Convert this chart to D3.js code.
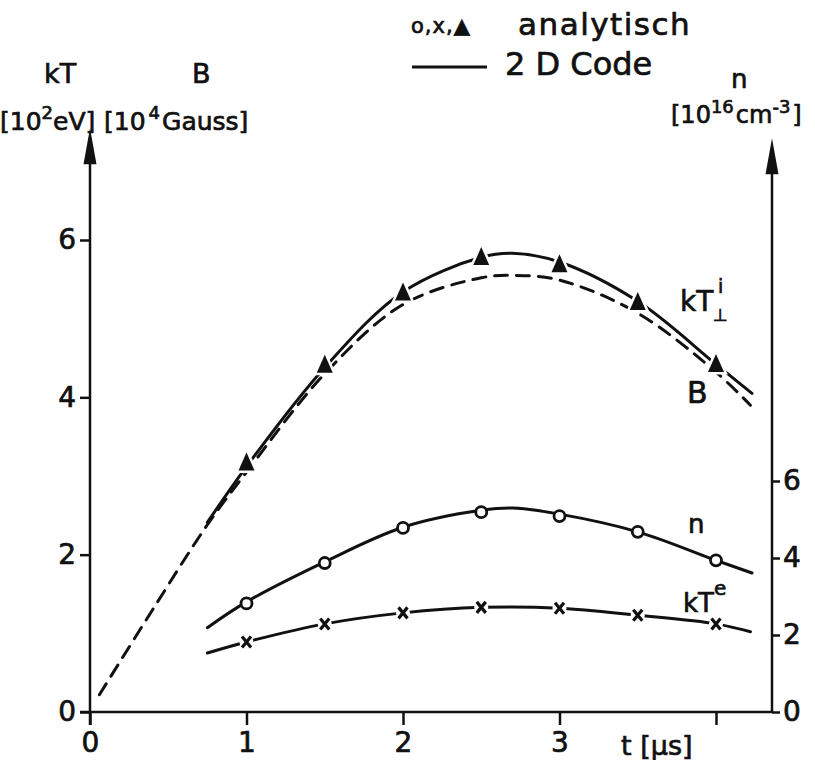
<!DOCTYPE html>
<html>
<head>
<meta charset="utf-8">
<script src="https://cdn.jsdelivr.net/npm/d3@7"></script>
<style>
  body { margin: 0; background: #fff; }
  text { font-family: "DejaVu Sans", sans-serif; fill: #111; stroke: #111; stroke-width: 0.7px; }
</style>
</head>
<body>
<svg id="canvas"></svg>
<script>
// time axis ticks and labels
const xTicks = [0, 1, 2, 3, 4];
const xTickLabels = ["0", "1", "2", "3", ""];
const leftTicks = [0, 2, 4, 6];
const rightTicks = [0, 2, 4, 6];

// 2D code curves (t in µs)
const kTiT = [0.75, 1, 1.5, 2, 2.5, 2.7, 3, 3.5, 4, 4.23];
const kTiV = [2.41, 3.12, 4.38, 5.34, 5.78, 5.83, 5.72, 5.22, 4.42, 4.05];
const bT = [0.06, 0.4, 0.75, 1, 1.5, 2, 2.5, 2.7, 3, 3.5, 4, 4.22];
const bV = [0.22, 1.3, 2.38, 3.05, 4.3, 5.18, 5.52, 5.55, 5.49, 5.07, 4.32, 3.90];
const nT = [0.75, 1, 1.5, 2, 2.5, 2.7, 3, 3.5, 4, 4.23];
const nV = [2.19, 2.86, 3.9, 4.8, 5.24, 5.3, 5.14, 4.68, 3.94, 3.61];
const kTeT = [0.75, 1, 1.5, 2, 2.5, 3, 3.5, 4, 4.22];
const kTeV = [0.75, 0.89, 1.12, 1.26, 1.33, 1.32, 1.23, 1.12, 1.02];

// analytic points
const anaT = [1, 1.5, 2, 2.5, 3, 3.5, 4];
const anaKTi = [3.16, 4.40, 5.32, 5.77, 5.68, 5.20, 4.41];
const anaN = [2.82, 3.87, 4.78, 5.19, 5.09, 4.68, 3.94];
const anaKTe = [0.89, 1.12, 1.26, 1.33, 1.32, 1.23, 1.12];

const width = 815;
const height = 760;

const svg = d3.select("#canvas")
    .attr("width", width)
    .attr("height", height);

const x = d3.scaleLinear().domain([0, 4]).range([90, 716]);
const yL = d3.scaleLinear().domain([0, 6]).range([712, 240]);
const yR = d3.scaleLinear().domain([0, 6]).range([712, 481]);
const xRight = 772;

const line = (xs, ys, yScale) => d3.line()
    .x(d => x(d[0]))
    .y(d => yScale(d[1]))
    .curve(d3.curveCatmullRom.alpha(0.5))(d3.zip(xs, ys));

// axes
const axisG = svg.append("g").attr("stroke", "#111").attr("stroke-width", 2.5);
axisG.append("line")
    .attr("x1", x(0)).attr("x2", x(0))
    .attr("y1", yL(0) + 13).attr("y2", yL(7.3));
axisG.append("line")
    .attr("x1", xRight).attr("x2", xRight)
    .attr("y1", yR(0)).attr("y2", yR(14.6));
axisG.append("line")
    .attr("x1", x(0) - 10).attr("x2", xRight)
    .attr("y1", yL(0)).attr("y2", yL(0));

// arrow heads
const arrow = (ax, ay) => svg.append("path")
    .attr("d", `M${ax},${ay}L${ax + 6.5},${ay + 36}L${ax - 6.5},${ay + 36}Z`)
    .attr("fill", "#111");
arrow(x(0), yL(7.42));
arrow(xRight, yR(14.9));

const xAxis = svg.append("g")
    .attr("transform", `translate(0, ${yL(0)})`)
    .call(d3.axisBottom(x).tickValues(xTicks)
        .tickFormat((d, i) => xTickLabels[i]).tickSize(13).tickPadding(7));
const leftAxis = svg.append("g")
    .attr("transform", `translate(${x(0)}, 0)`)
    .call(d3.axisLeft(yL).tickValues(leftTicks).tickFormat(d3.format("d"))
        .tickSize(10).tickPadding(4));
const rightAxis = svg.append("g")
    .attr("transform", `translate(${xRight}, 0)`)
    .call(d3.axisRight(yR).tickValues(rightTicks).tickFormat(d3.format("d"))
        .tickSize(8).tickPadding(3));

[xAxis, leftAxis, rightAxis].forEach(g => {
    g.select(".domain").remove();
    g.selectAll(".tick line").attr("stroke", "#111").attr("stroke-width", 2.5);
    g.selectAll(".tick text")
        .style("font-family", "'DejaVu Sans', sans-serif")
        .style("font-size", "28px")
        .attr("fill", "#111");
});
xAxis.selectAll(".tick text").attr("dy", "0.72em");

// curves
const curves = svg.append("g").attr("fill", "none").attr("stroke", "#111")
    .attr("stroke-width", 3).attr("stroke-linecap", "round");
curves.append("path").attr("d", line(bT, bV, yL)).attr("stroke-dasharray", "13,9");
curves.append("path").attr("d", line(kTiT, kTiV, yL));
curves.append("path").attr("d", line(nT, nV, yR));
curves.append("path").attr("d", line(kTeT, kTeV, yL));

// analytic markers
const tri = "M0,-11L8,7L-8,7Z";
svg.append("g").selectAll("path")
    .data(d3.zip(anaT, anaKTi))
    .join("path")
    .attr("transform", d => `translate(${x(d[0])},${yL(d[1])})`)
    .attr("d", tri)
    .attr("fill", "#111")
    .attr("stroke", "#fff")
    .attr("stroke-width", 5)
    .attr("paint-order", "stroke");

svg.append("g").selectAll("circle")
    .data(d3.zip(anaT, anaN))
    .join("circle")
    .attr("cx", d => x(d[0]))
    .attr("cy", d => yR(d[1]))
    .attr("r", 5.5)
    .attr("fill", "#fff")
    .attr("stroke", "#111")
    .attr("stroke-width", 2.8);

const crosses = svg.append("g").selectAll("g")
    .data(d3.zip(anaT, anaKTe))
    .join("g")
    .attr("transform", d => `translate(${x(d[0])},${yL(d[1])})`);
crosses.append("circle").attr("r", 7).attr("fill", "#fff");
crosses.append("path")
    .attr("d", "M-4.5,-5.5L4.5,5.5M4.5,-5.5L-4.5,5.5")
    .attr("stroke", "#111").attr("stroke-width", 3.2);

// texts
const txt = (s, px, py, size, anchor) => svg.append("text")
    .attr("x", px).attr("y", py)
    .attr("font-size", size)
    .attr("text-anchor", anchor || "start")
    .text(s);

// axis titles
txt("kT", 44, 83, 27);
txt("B", 192, 83, 27);
const l1 = txt("[10", 0, 130, 25);
l1.append("tspan").attr("dy", -11).attr("font-size", 18).text("2");
l1.append("tspan").attr("dy", 11).text("eV]");
const l2 = txt("[10", 104, 130, 25);
l2.append("tspan").attr("dy", -11).attr("font-size", 18).attr("dx", 3).text("4");
l2.append("tspan").attr("dy", 11).attr("dx", 2).text("Gauss]");
txt("n", 731, 88, 26);
const r1 = txt("[10", 671, 123, 24);
r1.append("tspan").attr("dy", -10).attr("font-size", 18).text("16");
r1.append("tspan").attr("dy", 10).attr("dx", 2).text("cm");
r1.append("tspan").attr("dy", -10).attr("font-size", 18).text("-3");
r1.append("tspan").attr("dy", 10).attr("dx", 2).text("]");
txt("t [μs]", 621, 755, 27);

// legend
txt("o,x,▲", 411, 33, 21).attr("letter-spacing", 1);
txt("analytisch", 518, 35, 31).attr("letter-spacing", 1.5);
svg.append("line")
    .attr("x1", 412).attr("x2", 487).attr("y1", 67).attr("y2", 67)
    .attr("stroke", "#111").attr("stroke-width", 3);
txt("2 D Code", 505, 75, 32);

// curve labels
txt("kT", 680, 311, 28);
txt("i", 718, 293, 19);
txt("⊥", 713, 321, 17);
txt("B", 687, 403, 30);
txt("n", 688, 533, 26);
txt("kT", 683, 612, 26);
txt("e", 714, 595, 20);
</script>
</body>
</html>
